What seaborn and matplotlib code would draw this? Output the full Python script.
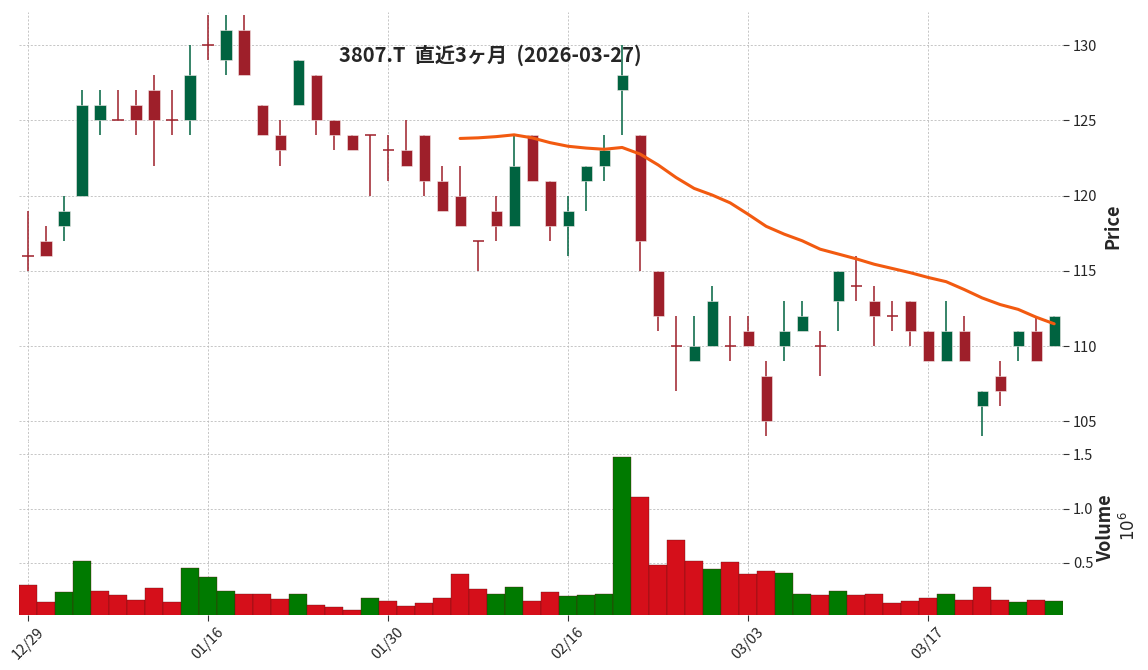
import numpy as np
import pandas as pd
import seaborn as sns
import matplotlib
matplotlib.use("Agg")
import matplotlib.pyplot as plt

# trading days (last ~3 months)
dates = ["2025-12-29", "2025-12-30", "2026-01-05", "2026-01-06", "2026-01-07", "2026-01-08",
         "2026-01-09", "2026-01-13", "2026-01-14", "2026-01-15", "2026-01-16", "2026-01-19",
         "2026-01-20", "2026-01-21", "2026-01-22", "2026-01-23", "2026-01-26", "2026-01-27",
         "2026-01-28", "2026-01-29", "2026-01-30", "2026-02-02", "2026-02-03", "2026-02-04",
         "2026-02-05", "2026-02-06", "2026-02-09", "2026-02-10", "2026-02-12", "2026-02-13",
         "2026-02-16", "2026-02-17", "2026-02-18", "2026-02-19", "2026-02-20", "2026-02-24",
         "2026-02-25", "2026-02-26", "2026-02-27", "2026-03-02", "2026-03-03", "2026-03-04",
         "2026-03-05", "2026-03-06", "2026-03-09", "2026-03-10", "2026-03-11", "2026-03-12",
         "2026-03-13", "2026-03-16", "2026-03-17", "2026-03-18", "2026-03-19", "2026-03-23",
         "2026-03-24", "2026-03-25", "2026-03-26", "2026-03-27"]

opens = [116, 117, 118, 120, 125, 125, 126, 127, 125, 125, 130, 129, 131, 126, 124, 126, 128, 125,
         124, 124, 123, 123, 124, 121, 120, 117, 119, 118, 124, 121, 118, 121, 122, 127, 124, 115,
         110, 109, 110, 110, 111, 108, 110, 111, 110, 113, 114, 113, 112, 113, 111, 109, 111, 106,
         108, 110, 111, 110]
highs = [119, 118, 120, 127, 127, 127, 127, 128, 127, 130, 132, 132, 132, 126, 125, 129, 128, 125,
         124, 124, 124, 125, 124, 122, 122, 117, 120, 124, 124, 121, 120, 122, 124, 130, 124, 115,
         112, 112, 114, 112, 112, 109, 113, 113, 111, 115, 116, 114, 113, 113, 111, 113, 112, 107,
         109, 111, 112, 112]
lows = [115, 116, 117, 120, 124, 125, 124, 122, 124, 124, 129, 128, 128, 124, 122, 126, 124, 123,
        123, 120, 121, 122, 120, 119, 118, 115, 117, 118, 121, 117, 116, 119, 121, 124, 115, 111,
        107, 109, 110, 109, 110, 104, 109, 111, 108, 111, 113, 110, 111, 110, 109, 109, 109, 104,
        106, 109, 109, 110]
closes = [116, 116, 119, 126, 126, 125, 125, 125, 125, 128, 130, 131, 128, 124, 123, 129, 125, 124,
          123, 124, 123, 122, 121, 119, 118, 117, 118, 122, 121, 118, 119, 122, 123, 128, 117, 112,
          110, 110, 113, 110, 110, 105, 111, 112, 110, 115, 114, 112, 112, 111, 109, 111, 109, 107,
          107, 111, 109, 112]
volumes = [300000, 140000, 235000, 520000, 244000, 207000, 160000, 270000, 140000, 450000,
           373000, 244000, 216000, 216000, 170000, 216000, 114000, 96000, 68000, 180000,
           150000, 105000, 133000, 180000, 400000, 260000, 216000, 280000, 150000, 235000,
           200000, 207000, 216000, 1475000, 1105000, 485000, 707000, 520000, 440000, 510000,
           400000, 430000, 410000, 216000, 207000, 244000, 207000, 216000, 133000, 150000,
           180000, 216000, 160000, 280000, 160000, 140000, 160000, 150000]

title = "3807.T  直近3ヶ月  (2026-03-27)"
mav_window = 25

UP, DOWN = "#006340", "#9e1f2a"
VUP, VDOWN = "#007a00", "#d50f1a"
MA_COLOR = "#f25a10"

df = pd.DataFrame({"date": pd.to_datetime(dates), "open": opens, "high": highs,
                   "low": lows, "close": closes, "volume": volumes})
df["i"] = np.arange(len(df))
df["mav"] = df["close"].rolling(mav_window).mean()
up = df["close"] > df["open"]
prev_close = df["close"].shift(1).fillna(df["open"])
vup = df["close"] > prev_close

sns.set_theme(style="whitegrid")
plt.rcParams["font.family"] = ["Noto Sans CJK JP", "DejaVu Sans"]
plt.rcParams["axes.unicode_minus"] = False

fig = plt.figure(figsize=(11.48, 6.70), dpi=100)
ax = fig.add_axes([0.0166, 0.342, 0.9095, 0.640])
axv = fig.add_axes([0.0166, 0.082, 0.9095, 0.260], sharex=ax)

grid_kw = dict(color="#bdbdbd", linestyle=(0, (2.5, 2)), linewidth=0.6)
for a in (ax, axv):
    a.set_facecolor("white")
    a.grid(True, **grid_kw)
    for s in a.spines.values():
        s.set_visible(False)
    a.yaxis.tick_right()
    a.yaxis.set_label_position("right")
    a.tick_params(axis="y", which="both", length=4, width=0.8, color="#333333",
                  labelsize=10.5, pad=3, right=True, left=False)
    a.set_axisbelow(True)

# candles
body_w = 0.62
col = np.where(up, UP, DOWN)
ax.vlines(df["i"], df["low"], df["high"], colors=col, linewidth=1.1, zorder=2)
body_h = (df["close"] - df["open"]).abs()
body_bottom = np.minimum(df["open"], df["close"])
flat = body_h == 0
ax.bar(df["i"][~flat], body_h[~flat], bottom=body_bottom[~flat], width=body_w,
       color=col[~flat], edgecolor="#f4eaea", linewidth=0.4, zorder=3)
ax.hlines(df["close"][flat], df["i"][flat] - body_w / 2, df["i"][flat] + body_w / 2,
          colors=col[flat], linewidth=1.1, zorder=3)

sns.lineplot(data=df, x="i", y="mav", ax=ax, color=MA_COLOR, linewidth=2.2, zorder=4)

ax.set_xlim(-0.5, len(df) - 0.5)
ax.set_ylim(103.7, 132.2)
ax.set_yticks([105, 110, 115, 120, 125, 130])
ax.set_ylabel("Price", fontsize=13, fontweight="bold", labelpad=4)
ax.set_xlabel("")
ax.tick_params(axis="x", which="both", bottom=False, labelbottom=False)

# volume
vol_m = df["volume"] / 1e6
vcol = np.where(vup, VUP, VDOWN)
axv.bar(df["i"], vol_m, width=1.0, color=vcol, edgecolor="#5a1010", linewidth=0.25, zorder=3)
axv.set_ylim(0.3 * vol_m.min(), 1.1 * vol_m.max())
axv.set_yticks([0.5, 1.0, 1.5])
axv.set_ylabel("Volume", fontsize=13, fontweight="bold", labelpad=2)
fig.text(0.983, 0.215, r"$10^{6}$", rotation=90, fontsize=12, ha="center", va="center")

tick_idx = df["i"][::10]
axv.set_xticks(tick_idx)
axv.set_xticklabels(df["date"].dt.strftime("%m/%d")[::10], rotation=45, ha="center",
                    fontsize=10.5)
axv.tick_params(axis="x", which="both", bottom=True, length=4, width=0.8, color="#333333", pad=3)

fig.text(0.427, 0.918, title, fontsize=14.5, fontweight="bold", ha="center", va="center")

fig.savefig("out.png", dpi=100)
